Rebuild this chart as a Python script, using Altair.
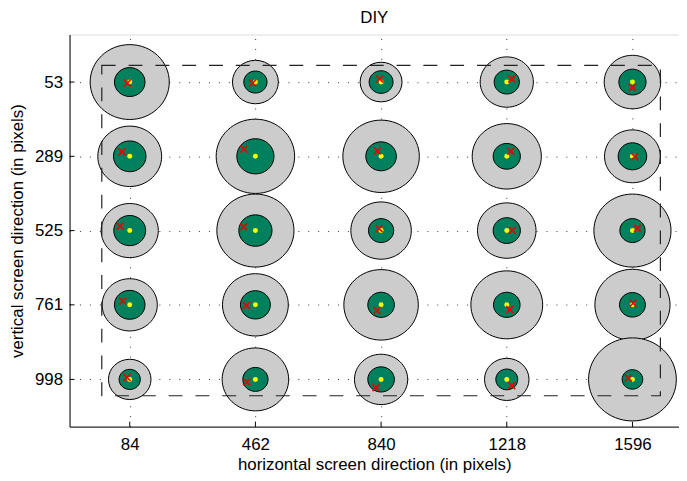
import altair as alt
import pandas as pd

# ---- data ----
x_ticks = [84, 462, 840, 1218, 1596]
y_ticks = [53, 289, 525, 761, 998]

# rows follow y_ticks, columns follow x_ticks (radii in screen pixels)
outer_r = [
    [119, 69, 63, 80, 85],
    [96, 118, 115, 104, 84],
    [86, 116, 91, 88, 116],
    [83, 99, 112, 108, 113],
    [64, 100, 80, 67, 132],
]
inner_r = [
    [46, 35, 36, 38, 41],
    [49, 56, 46, 41, 43],
    [48, 50, 38, 41, 38],
    [46, 45, 40, 40, 39],
    [32, 38, 40, 33, 31],
]
gaze_x = [
    [77, 454, 836, 1233, 1596],
    [61, 428, 829, 1230, 1603],
    [55, 427, 834, 1235, 1611],
    [63, 435, 828, 1227, 1598],
    [76, 436, 825, 1233, 1584],
]
gaze_y = [
    [56, 56, 43, 43, 70],
    [275, 266, 272, 273, 290],
    [511, 513, 519, 524, 518],
    [749, 763, 779, 776, 756],
    [992, 1006, 1024, 1018, 994],
]
screen_x = [0, 1680]
screen_y = [0, 1050]

# ---- layout ----
W, H = 614, 395
X_DOM = [-97, 1736]
Y_DOM = [-98, 1148]
KX = W / (X_DOM[1] - X_DOM[0])
KY = H / (Y_DOM[1] - Y_DOM[0])
A = KY / KX
K = 0.5523
ellipse = (
    f"M1,0 C1,{K*A:.4f} {K:.4f},{A:.4f} 0,{A:.4f} "
    f"C{-K:.4f},{A:.4f} -1,{K*A:.4f} -1,0 "
    f"C-1,{-K*A:.4f} {-K:.4f},{-A:.4f} 0,{-A:.4f} "
    f"C{K:.4f},{-A:.4f} 1,{-K*A:.4f} 1,0 Z"
)
xmark = "M-1,-1L1,1M-1,1L1,-1"

FONT = "Liberation Sans"

rows = []
for i, yv in enumerate(y_ticks):
    for j, xv in enumerate(x_ticks):
        rows.append(dict(x=xv, y=yv, outer=outer_r[i][j], inner=inner_r[i][j],
                         gx=gaze_x[i][j], gy=gaze_y[i][j]))
df = pd.DataFrame(rows)
rect_df = pd.DataFrame({"x": [screen_x[0]], "x2": [screen_x[1]],
                        "y": [screen_y[0]], "y2": [screen_y[1]]})
xt_df = pd.DataFrame({"x": x_ticks})
yt_df = pd.DataFrame({"y": y_ticks})

xscale = alt.Scale(domain=X_DOM, nice=False, zero=False)
yscale = alt.Scale(domain=Y_DOM, reverse=True, nice=False, zero=False)
RMAX = 200
size_scale = alt.Scale(type="pow", exponent=2, domain=[0, RMAX],
                       range=[0, (2 * RMAX * KX) ** 2])

xaxis = alt.Axis(values=x_ticks, format="d", title="horizontal screen direction (in pixels)",
                 grid=True, gridDash=[1, 9], gridColor="#333333", gridWidth=1,
                 ticks=False, tickSize=0, labelPadding=10, titlePadding=4,
                 domainColor="black", labelFontSize=17, titleFontSize=17,
                 labelFont=FONT, titleFont=FONT, titleFontWeight="normal",
                 labelColor="black", titleColor="black")
yaxis = alt.Axis(values=y_ticks, format="d", title="vertical screen direction (in pixels)",
                 grid=True, gridDash=[1, 9], gridColor="#333333", gridWidth=1,
                 ticks=False, tickSize=0, labelPadding=7, titlePadding=8,
                 domainColor="black", labelFontSize=17, titleFontSize=17,
                 labelFont=FONT, titleFont=FONT, titleFontWeight="normal",
                 labelColor="black", titleColor="black")

X = lambda f: alt.X(f"{f}:Q", scale=xscale, axis=xaxis)
Y = lambda f: alt.Y(f"{f}:Q", scale=yscale, axis=yaxis)

base = alt.Chart(df)

outer = base.mark_point(shape=ellipse, filled=True, fill="#cccccc", stroke="black",
                        strokeWidth=1, opacity=1).encode(
    x=X("x"), y=Y("y"), size=alt.Size("outer:Q", scale=size_scale, legend=None))

rect = alt.Chart(rect_df).mark_rect(fillOpacity=0, stroke="#222222", strokeWidth=1.2,
                                    strokeDash=[14, 13]).encode(
    x=X("x"), x2="x2", y=Y("y"), y2="y2")

inner = base.mark_point(shape=ellipse, filled=True, fill="#00805c", stroke="black",
                        strokeWidth=1, opacity=1).encode(
    x=X("x"), y=Y("y"), size=alt.Size("inner:Q", scale=size_scale, legend=None))

target = base.mark_point(shape="circle", filled=True, fill="#ffff00", size=25,
                         opacity=1, strokeWidth=0).encode(x=X("x"), y=Y("y"))

gaze = base.mark_point(shape=xmark, filled=False, stroke="#ee0000", strokeWidth=1.6,
                       size=49, opacity=1).encode(x=X("gx"), y=Y("gy"))

xt = alt.Chart(xt_df).mark_rule(color="black", strokeWidth=1).encode(
    x=X("x"), y=alt.value(H), y2=alt.value(H - 5))
yt = alt.Chart(yt_df).mark_rule(color="black", strokeWidth=1).encode(
    y=Y("y"), x=alt.value(0), x2=alt.value(5))

chart = alt.layer(outer, rect, inner, target, gaze, xt, yt).properties(
    width=W, height=H,
    title=alt.TitleParams("DIY", fontSize=17, font=FONT, fontWeight="normal",
                          color="black", offset=8, anchor="middle"),
    autosize=alt.AutoSizeParams(type="none"),
    padding={"left": 62, "top": 25, "right": 0, "bottom": 45},
).configure_view(strokeWidth=0).configure(background="white")

chart.save("out.html", embed_options={"renderer": "svg", "actions": False})
